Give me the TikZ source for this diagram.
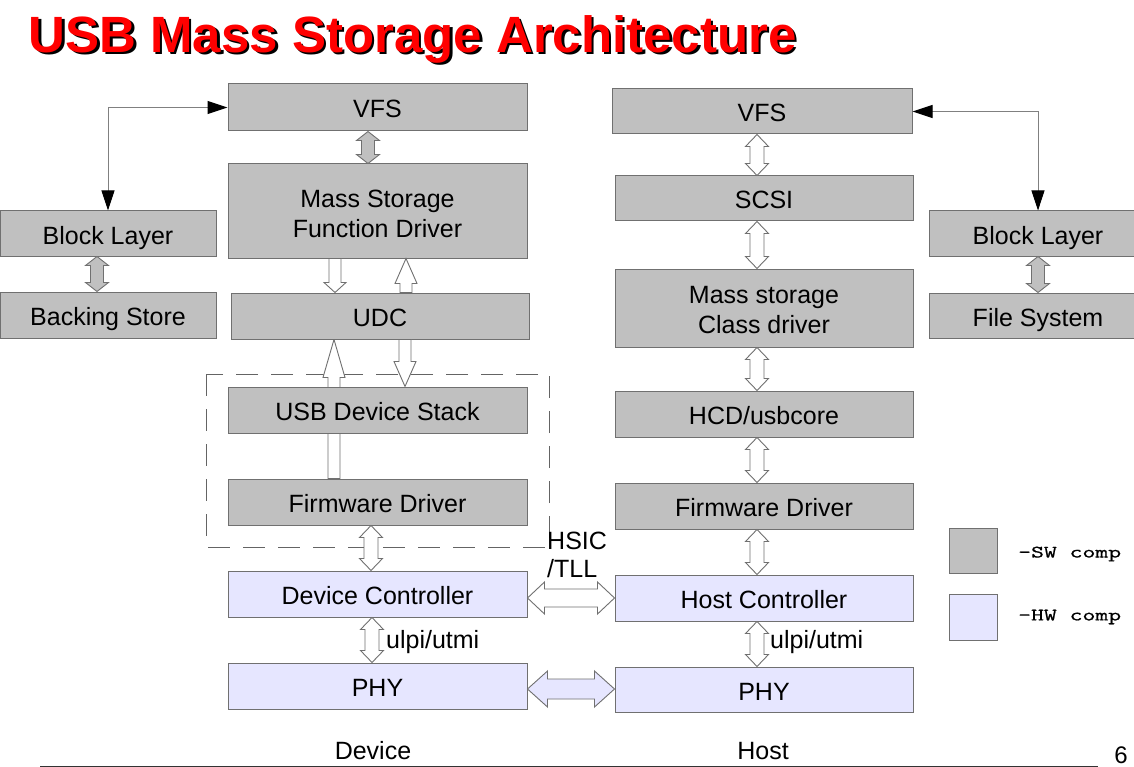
\documentclass[tikz,border=0pt]{standalone}
\usepackage{fontspec}
\usepackage{graphicx}
\setmainfont{Liberation Sans}
\newfontfamily\legmono{lmmono10-regular.otf}[AutoFakeBold=0.6]
\usetikzlibrary{arrows.meta,calc,backgrounds}
\definecolor{swgray}{RGB}{192,192,192}
\definecolor{hwlav}{RGB}{230,230,255}
\definecolor{bordergray}{RGB}{112,112,112}
\definecolor{linegray}{RGB}{128,128,128}
\definecolor{dashgray}{RGB}{100,100,100}
\definecolor{titlered}{RGB}{255,0,0}
\newcommand\boxfont{\fontsize{25}{30}\selectfont}
\newcommand\legfont{\legmono\bfseries\fontsize{17.5}{20}\selectfont}
% vertical double block arrow: style, x, top point, bottom point, shaft half, head half, head length
\newcommand\vdbl[7]{\path[#1] let \p1=(#3), \p2=(#4) in
 (#2pt,\y1) -- ({#2pt+#6pt},{\y1-#7pt}) -- ({#2pt+#5pt},{\y1-#7pt}) -- ({#2pt+#5pt},{\y2+#7pt}) -- ({#2pt+#6pt},{\y2+#7pt}) -- (#2pt,\y2) -- ({#2pt-#6pt},{\y2+#7pt}) -- ({#2pt-#5pt},{\y2+#7pt}) -- ({#2pt-#5pt},{\y1-#7pt}) -- ({#2pt-#6pt},{\y1-#7pt}) -- cycle;}
% single block arrow pointing down
\newcommand\vdown[7]{\path[#1] let \p1=(#3), \p2=(#4) in
 ({#2pt-#5pt},\y1) -- ({#2pt+#5pt},\y1) -- ({#2pt+#5pt},{\y2+#7pt}) -- ({#2pt+#6pt},{\y2+#7pt}) -- (#2pt,\y2) -- ({#2pt-#6pt},{\y2+#7pt}) -- ({#2pt-#5pt},{\y2+#7pt}) -- cycle;}
% single block arrow pointing up
\newcommand\vup[7]{\path[#1] let \p1=(#3), \p2=(#4) in
 ({#2pt-#5pt},\y2) -- ({#2pt+#5pt},\y2) -- ({#2pt+#5pt},{\y1-#7pt}) -- ({#2pt+#6pt},{\y1-#7pt}) -- (#2pt,\y1) -- ({#2pt-#6pt},{\y1-#7pt}) -- ({#2pt-#5pt},{\y1-#7pt}) -- cycle;}
% horizontal double block arrow: style, y, left point, right point, shaft half, head half, head length
\newcommand\hdbl[7]{\path[#1] let \p1=(#3), \p2=(#4) in
 (\x1,-#2pt) -- ({\x1+#7pt},{-#2pt+#6pt}) -- ({\x1+#7pt},{-#2pt+#5pt}) -- ({\x2-#7pt},{-#2pt+#5pt}) -- ({\x2-#7pt},{-#2pt+#6pt}) -- (\x2,-#2pt) -- ({\x2-#7pt},{-#2pt-#6pt}) -- ({\x2-#7pt},{-#2pt-#5pt}) -- ({\x1+#7pt},{-#2pt-#5pt}) -- ({\x1+#7pt},{-#2pt-#6pt}) -- cycle;}
\tikzset{
 box/.style={draw=bordergray, line width=1pt, inner sep=0pt, align=center, font=\boxfont, text height=25pt, text depth=4pt},
 sw/.style={box, fill=swgray},
 hw/.style={box, fill=hwlav},
 grayarr/.style={draw=bordergray, fill=swgray, line width=0.9pt},
 whitearr/.style={draw=bordergray, fill=white, line width=0.9pt},
 lavarr/.style={draw=bordergray, fill=hwlav, line width=0.9pt},
 conn/.style={draw=linegray, line width=1pt, {Triangle[length=20pt,width=13pt,color=black]}-{Triangle[length=20pt,width=13pt,color=black]}},
 lbl/.style={font=\boxfont, inner sep=0pt},
 legtext/.style={font=\legfont, inner sep=0pt, anchor=west},
 groupbox/.style={draw=dashgray, line width=1pt, dash pattern=on 22pt off 13pt},
 titlestyle/.style={anchor=base west, inner sep=0pt, font=\fontsize{51}{60}\selectfont\bfseries},
}
\begin{document}
\begin{tikzpicture}[x=1pt,y=-1pt]
\useasboundingbox (0,0) rectangle (1134,767);
\clip (0,0) rectangle (1134,767);
% title
\node[titlestyle, text=black] (titleshadow) at (31,55) {USB Mass Storage Architecture};
\node[titlestyle, text=titlered] (title) at (28.5,52.5) {USB Mass Storage Architecture};
% left column
\node[sw, minimum width=216pt, minimum height=45pt] (blL) at (108,233.5) {Block Layer};
\node[sw, minimum width=216pt, minimum height=46pt] (bs) at (108,315) {Backing Store};
% device column
\node[sw, minimum width=299pt, minimum height=47pt] (vfsD) at (377.5,107.5) {VFS};
\node[sw, minimum width=299pt, minimum height=94pt] (msfd) at (377.5,211) {};
\node[lbl, align=center] (msfdT) at (377.5,214) {Mass Storage\\Function Driver};
\node[sw, minimum width=298pt, minimum height=46pt] (udc) at (380,316) {UDC};
\node[sw, minimum width=299pt, minimum height=46pt] (uds) at (377.5,410) {USB Device Stack};
\node[sw, minimum width=299pt, minimum height=46pt] (fwD) at (377.5,502) {Firmware Driver};
\node[hw, minimum width=299pt, minimum height=46pt] (dc) at (377.5,594) {Device Controller};
\node[hw, minimum width=299pt, minimum height=46pt] (phyD) at (377.5,686) {PHY};
% host column
\node[sw, minimum width=300pt, minimum height=45pt] (vfsH) at (762,111.5) {VFS};
\node[sw, minimum width=298pt, minimum height=45pt] (scsi) at (764,198.5) {SCSI};
\node[sw, minimum width=298pt, minimum height=78pt] (mscd) at (764,308) {};
\node[lbl, align=center] (mscdT) at (764,310.5) {Mass storage\\Class driver};
\node[sw, minimum width=298pt, minimum height=46pt] (hcd) at (764,414) {HCD/usbcore};
\node[sw, minimum width=298pt, minimum height=46pt] (fwH) at (764,506) {Firmware Driver};
\node[hw, minimum width=298pt, minimum height=46pt] (hc) at (764,598) {Host Controller};
\node[hw, minimum width=298pt, minimum height=45pt] (phyH) at (764,689.5) {PHY};
% right column
\node[sw, minimum width=218pt, minimum height=45pt] (blR) at (1038,233.5) {Block Layer};
\node[sw, minimum width=218pt, minimum height=45pt] (fs) at (1038,315.5) {File System};
% legend
\node[sw, minimum width=48pt, minimum height=45pt] (swL) at (973,550.5) {};
\node[hw, minimum width=48pt, minimum height=46pt] (hwL) at (973,617) {};
\node[legtext] (swT) at (1018,554) {\scalebox{1.4}[1]{-SW comp}};
\node[legtext] (hwT) at (1018,617) {\scalebox{1.4}[1]{-HW comp}};
% background: white page, dashed group and long up arrow behind USB Device Stack
\begin{pgfonlayer}{background}
\fill[white] (0,0) rectangle (1134,767);
\draw[groupbox] (206,374) rectangle (549,547);
\vup{whitearr}{334}{udc.south}{fwD.north}{6}{11}{38}
\end{pgfonlayer}
% gray double arrows
\vdbl{grayarr}{368}{vfsD.south}{msfd.north}{6.5}{11.5}{9}
\vdbl{grayarr}{97}{blL.south}{bs.north}{6.5}{11.5}{9}
\vdbl{grayarr}{1038}{blR.south}{fs.north}{6.5}{11.5}{9}
% device side white arrows
\vdown{whitearr}{335}{msfd.south}{udc.north}{6}{11}{10}
\vup{whitearr}{406}{msfd.south}{udc.north}{6}{11}{25}
\vdown{whitearr}{405}{udc.south}{uds.north}{6}{11}{25}
\vdbl{whitearr}{371}{fwD.south}{dc.north}{7}{11.5}{12}
\vdbl{whitearr}{372}{dc.south}{phyD.north}{7}{11.5}{12}
% host side white arrows
\vdbl{whitearr}{757}{vfsH.south}{scsi.north}{7}{11.5}{12}
\vdbl{whitearr}{757}{scsi.south}{mscd.north}{7}{11.5}{12}
\vdbl{whitearr}{757}{mscd.south}{hcd.north}{7}{11.5}{12}
\vdbl{whitearr}{757}{hcd.south}{fwH.north}{7}{11.5}{12}
\vdbl{whitearr}{757}{fwH.south}{hc.north}{7}{11.5}{12}
\vdbl{whitearr}{757}{hc.south}{phyH.north}{7}{11.5}{12}
% horizontal links
\hdbl{whitearr}{598}{dc.east}{hc.west}{9}{16}{17}
\hdbl{lavarr}{689}{phyD.east}{phyH.west}{10}{18}{20}
% thin connectors
\draw[conn] (blL.north) |- (vfsD.west);
\draw[conn] (vfsH.east) -| (blR.north);
% labels
\node[lbl, anchor=west] (ulpiD) at (386,642) {ulpi/utmi};
\node[lbl, anchor=west] (ulpiH) at (770,642) {ulpi/utmi};
\node[lbl, anchor=west, align=left, font=\fontsize{25}{28}\selectfont] (hsic) at (547,555) {HSIC\\/TLL};
\node[lbl] (devL) at (373,751) {Device};
\node[lbl] (hostL) at (763,751) {Host};
\node[lbl, font=\fontsize{24}{28}\selectfont] (pnum) at (1121,755) {6};
\draw[line width=1pt, black!80] (40,766) -- (1098,766);
\end{tikzpicture}
\end{document}
